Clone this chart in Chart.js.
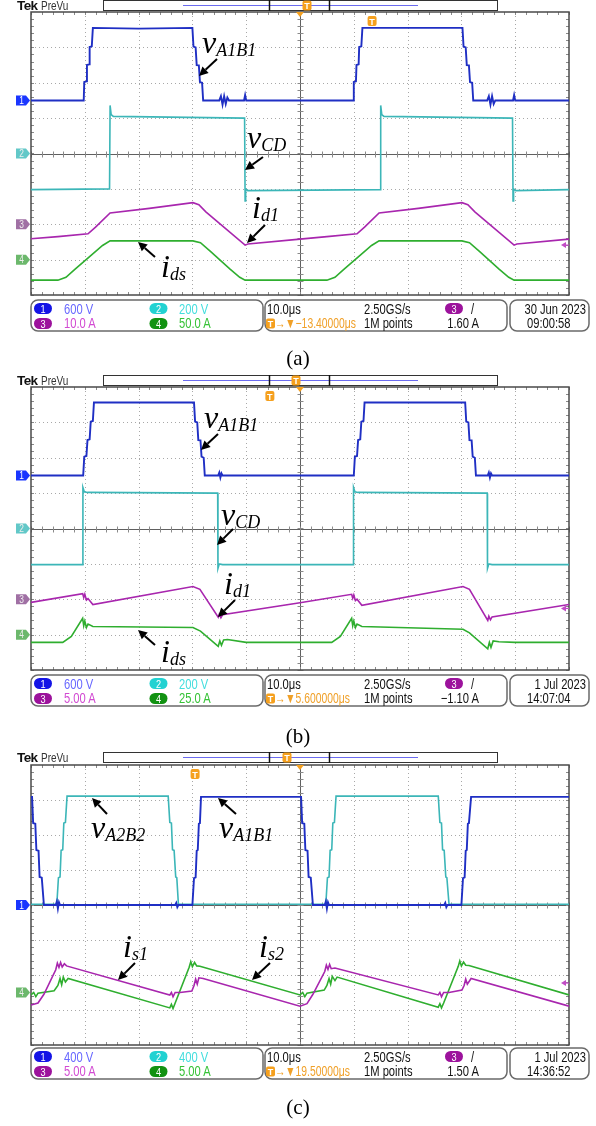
<!DOCTYPE html>
<html>
<head>
<meta charset="utf-8">
<script src="https://cdn.jsdelivr.net/npm/chart.js@4.4.0/dist/chart.umd.min.js"></script>
<style>
body { margin: 0; background: #fff; width: 596px; height: 1126px; position: relative; overflow: hidden; }
.panel { position: absolute; left: 0; width: 596px; }
.panel canvas { position: absolute; left: 0; top: 0; }
#overlay { position: absolute; left: 0; top: 0; pointer-events: none; }
</style>
</head>
<body>
<script>
// time axis 0..100 us (10 us/div), vertical in divisions -4..4

// ---- panel (a) ----
const a_vA1B1 = [[0,1.5],[9.8,1.5],[9.9,2.02],[10.3,2.04],[10.4,2.5],[10.8,2.52],[10.9,3.01],[11.3,3.03],[11.5,3.55],[20,3.53],[30,3.55],[30.2,3.02],[30.6,3.0],[30.8,2.5],[31.2,2.49],[31.4,2.02],[31.8,2.0],[32.0,1.5],[35.0,1.5],[35.3,1.62],[35.6,1.38],[35.9,1.62],[36.2,1.4],[36.5,1.58],[36.8,1.5],[39.6,1.5],[39.8,1.65],[40,1.5],[59.9,1.5],[60.0,2.02],[60.4,2.04],[60.5,2.5],[60.9,2.52],[61.0,3.01],[61.4,3.03],[61.6,3.55],[80.2,3.55],[80.4,3.02],[80.8,3.0],[81.0,2.5],[81.4,2.49],[81.6,2.02],[82.0,2.0],[82.2,1.5],[84.8,1.5],[85.1,1.62],[85.4,1.38],[85.7,1.62],[86.0,1.4],[86.3,1.5],[89.6,1.5],[89.8,1.65],[90,1.5],[100,1.5]];
const a_vCD = [[0,-1.02],[14.6,-1.0],[14.7,1.36],[14.9,1.1],[15.3,1.05],[39.7,1.0],[39.8,-1.34],[39.9,-1.0],[40.3,-1.05],[64.9,-1.02],[65.0,1.36],[65.2,1.1],[65.6,1.05],[89.5,1.0],[89.6,-1.34],[89.7,-1.0],[90.1,-1.05],[100,-1.02]];
const a_id1 = [[0,-2.41],[5,-2.35],[10.6,-2.27],[12,-2.08],[14.7,-1.68],[22,-1.55],[30.1,-1.39],[31.2,-1.45],[32.5,-1.65],[39.8,-2.59],[40.3,-2.56],[50,-2.42],[55,-2.35],[60.6,-2.27],[62,-2.08],[64.7,-1.68],[72,-1.55],[80.1,-1.39],[81.2,-1.45],[82.5,-1.65],[89.8,-2.59],[90.3,-2.56],[100,-2.42]];
const a_ids = [[0,-3.58],[5,-3.58],[6.5,-3.5],[8.2,-3.27],[11,-2.9],[13.3,-2.6],[14.7,-2.47],[30.1,-2.47],[31.5,-2.52],[33.3,-2.76],[37,-3.27],[38.8,-3.5],[39.8,-3.58],[55,-3.58],[56.5,-3.5],[58.2,-3.27],[61,-2.9],[63.3,-2.6],[64.7,-2.47],[80.1,-2.47],[81.5,-2.52],[83.3,-2.76],[87,-3.27],[88.8,-3.5],[89.8,-3.58],[100,-3.58]];

// ---- panel (b) ----
const b_vA1B1 = [[0,1.5],[9.7,1.5],[9.9,2.03],[10.3,2.05],[10.5,2.5],[10.9,2.52],[11.1,3.02],[11.5,3.04],[11.7,3.56],[30.3,3.56],[30.5,3.02],[30.9,3.0],[31.1,2.5],[31.5,2.49],[31.7,2.03],[32.1,2.0],[32.3,1.5],[34.8,1.5],[35.0,1.58],[35.2,1.44],[35.4,1.56],[35.6,1.5],[60.0,1.5],[60.2,2.03],[60.6,2.05],[60.8,2.5],[61.2,2.52],[61.4,3.02],[61.8,3.04],[62.0,3.56],[80.7,3.56],[80.9,3.02],[81.3,3.0],[81.5,2.5],[81.9,2.49],[82.1,2.03],[82.5,2.0],[82.7,1.5],[84.9,1.5],[85.1,1.58],[85.3,1.44],[85.5,1.56],[85.7,1.5],[100,1.5]];
const b_vCD = [[0,-1.02],[9.6,-1.02],[9.65,1.16],[9.9,1.04],[10.5,1.02],[34.7,1.0],[34.75,-1.13],[35,-1.0],[35.6,-1.02],[59.9,-1.02],[59.95,1.16],[60.2,1.04],[60.8,1.02],[84.8,1.0],[84.85,-1.13],[85.1,-1.0],[85.7,-1.02],[100,-1.02]];
const b_id1 = [[0,-2.09],[9.6,-1.84],[9.8,-1.95],[10.0,-1.86],[10.3,-2.02],[10.6,-1.98],[11.5,-2.15],[30.1,-1.64],[31.4,-1.72],[34.8,-2.51],[35.0,-2.42],[35.3,-2.52],[35.6,-2.44],[50,-2.1],[59.6,-1.86],[59.8,-1.97],[60.0,-1.88],[60.3,-2.04],[60.6,-2.0],[61.5,-2.17],[80.3,-1.64],[81.5,-1.72],[84.9,-2.6],[85.1,-2.48],[85.4,-2.58],[85.7,-2.5],[100,-2.15]];
const b_ids = [[0,-3.22],[5.9,-3.22],[7.5,-3.05],[9.6,-2.54],[9.8,-2.75],[10.0,-2.62],[10.3,-2.8],[10.6,-2.7],[11.5,-2.77],[30.1,-2.8],[31.5,-2.9],[34.8,-3.33],[35.1,-3.18],[35.4,-3.3],[35.8,-3.15],[36.5,-3.14],[40,-3.22],[55.9,-3.22],[57.5,-3.05],[59.6,-2.54],[59.8,-2.75],[60.0,-2.62],[60.3,-2.8],[60.6,-2.7],[61.5,-2.77],[80.3,-2.85],[81.5,-2.95],[84.9,-3.4],[85.2,-3.22],[85.5,-3.36],[85.9,-3.18],[87,-3.2],[90,-3.22],[100,-3.22]];

// ---- panel (c) ----
const c_vA1B1 = [[0,3.09],[0.2,3.09],[0.4,2.34],[0.8,2.32],[1.0,1.57],[1.4,1.55],[1.6,0.8],[2.0,0.78],[2.4,0],[4.6,0],[4.8,0.1],[5.0,-0.1],[5.2,0.08],[5.4,0],[26.8,0],[27.0,0.06],[27.2,-0.06],[27.4,0],[30.0,0],[30.3,0.77],[30.6,0.79],[30.8,1.55],[31.0,1.57],[31.2,2.32],[31.4,2.34],[31.6,3.09],[50.2,3.09],[50.4,2.34],[50.8,2.32],[51.0,1.57],[51.4,1.55],[51.6,0.8],[52.0,0.78],[52.4,0],[54.6,0],[54.8,0.1],[55.0,-0.1],[55.2,0.08],[55.4,0],[76.8,0],[77.0,0.06],[77.2,-0.06],[77.4,0],[80.0,0],[80.3,0.77],[80.6,0.79],[80.8,1.55],[81.0,1.57],[81.2,2.32],[81.4,2.34],[81.8,3.09],[100,3.09]];
const c_vA2B2 = [[0,0.02],[4.8,0.02],[5.1,0.78],[5.4,0.8],[5.6,1.56],[5.9,1.58],[6.1,2.34],[6.4,2.36],[6.7,3.11],[25.5,3.11],[25.8,2.36],[26.1,2.34],[26.3,1.58],[26.6,1.56],[26.9,0.8],[27.1,0.78],[27.4,0.02],[54.8,0.02],[55.1,0.78],[55.4,0.8],[55.6,1.56],[55.9,1.58],[56.1,2.34],[56.4,2.36],[56.7,3.11],[75.7,3.11],[76.0,2.36],[76.3,2.34],[76.5,1.58],[76.8,1.56],[77.1,0.8],[77.3,0.78],[77.7,0.02],[100,0.02]];
const c_is1 = [[0,-2.86],[1.3,-2.8],[2.4,-2.55],[4.6,-1.85],[4.9,-1.66],[5.2,-1.78],[5.5,-1.64],[5.8,-1.77],[6.2,-1.68],[6.6,-1.74],[25.8,-2.57],[26.1,-2.5],[26.4,-2.62],[26.8,-2.5],[27.7,-2.5],[29.9,-2.46],[30.3,-2.3],[30.6,-2.12],[30.9,-2.26],[31.2,-2.08],[32,-2.1],[50,-2.89],[51.3,-2.82],[52.4,-2.55],[54.6,-1.9],[54.9,-1.72],[55.2,-1.84],[55.5,-1.7],[55.8,-1.82],[56.5,-1.8],[75.7,-2.57],[76.0,-2.5],[76.3,-2.62],[76.7,-2.5],[77.7,-2.5],[80.1,-2.43],[80.5,-2.3],[80.8,-2.12],[81.1,-2.26],[81.8,-2.1],[100,-2.89]];
const c_is2 = [[0,-2.57],[0.5,-2.5],[0.9,-2.62],[1.3,-2.52],[4.3,-2.45],[5.0,-2.3],[5.4,-2.1],[5.7,-2.28],[6.0,-2.06],[6.4,-2.2],[6.9,-2.1],[25.8,-2.94],[26.1,-2.84],[26.4,-2.96],[26.8,-2.8],[29.4,-1.78],[29.7,-1.62],[30.0,-1.76],[30.4,-1.64],[30.8,-1.74],[31.4,-1.75],[50,-2.57],[50.5,-2.5],[50.9,-2.62],[51.3,-2.52],[54.5,-2.43],[55,-2.3],[55.4,-2.1],[55.7,-2.26],[56.0,-2.04],[56.5,-2.16],[56.9,-2.06],[75.7,-2.92],[76.0,-2.82],[76.3,-2.94],[76.7,-2.8],[79.4,-1.76],[79.7,-1.6],[80.0,-1.74],[80.4,-1.63],[80.8,-1.72],[81.4,-1.73],[100,-2.57]];

const traceColors = ['#1f2fc4', '#3cb6b8', '#a826ae', '#2fae2f'];
const chanFill = ['#1a36ff', '#62c8c8', '#a070a4', '#6cb86c'];
const pillFill = ['#1414e6', '#22d2d2', '#9c129c', '#129212'];
const infoColors = ['#6868ff', '#44dede', '#d24ad2', '#36c236'];

const scaleTexts = [['600 V', '200 V', '10.0 A', '50.0 A'], ['600 V', '200 V', '5.00 A', '25.0 A'], ['400 V', '400 V', '5.00 A', '5.00 A']];
const trigOffsets = ['\u221213.40000\u03bcs', '5.600000\u03bcs', '19.50000\u03bcs'];
const trigLevels = ['1.60 A', '\u22121.10 A', '1.50 A'];
const trigLevelDiv = [-2.59, -2.26, -2.23];
const trigTime = [63.4, 44.4, 30.5];
const headerT = [307, 296, 287];
const dates = ['30 Jun  2023', '1 Jul  2023', '1 Jul  2023'];
const clocks = ['09:00:58', '14:07:04', '14:36:52'];
const captions = ['(a)', '(b)', '(c)'];
const captionY = [365, 743, 1114];

// channel reference levels shown on the left [channel index, level]
const chanMarks = [[[0, 1.5], [1, 0], [2, -2], [3, -3]], [[0, 1.5], [1, 0], [2, -2], [3, -3]], [[0, 0], [3, -2.5]]];

// labels: main letter, subscript, x, baseline (page px)
const labelText = [
  [['v', 'A1B1', 202, 53], ['v', 'CD', 247, 148], ['i', 'd1', 252, 218], ['i', 'ds', 161, 277]],
  [['v', 'A1B1', 204, 428], ['v', 'CD', 221, 525], ['i', 'd1', 224, 594], ['i', 'ds', 161, 662]],
  [['v', 'A2B2', 91, 838], ['v', 'A1B1', 219, 838], ['i', 's1', 123, 957], ['i', 's2', 259, 957]]
];
const arrowList = [
  [217, 59, 199, 76], [263, 157, 245, 170], [265, 225, 247, 243], [155, 257, 138, 242],
  [218, 434, 201, 450], [233, 529, 217, 545], [235, 600, 218, 617], [155, 645, 138, 630],
  [107, 814, 92, 798], [236, 814, 218, 798], [135, 963, 118, 980], [270, 963, 252, 980]
];

const panels = [
  {top: 0, gridTop: 12, gridH: 283, infoTop: 300, series: [a_vA1B1, a_vCD, a_id1, a_ids], chans: [0, 1, 2, 3]},
  {top: 375, gridTop: 12, gridH: 283, infoTop: 300, series: [b_vA1B1, b_vCD, b_id1, b_ids], chans: [0, 1, 2, 3]},
  {top: 752, gridTop: 13, gridH: 280, infoTop: 296, series: [c_vA1B1, c_vA2B2, c_is1, c_is2], chans: [0, 1, 2, 3]}
];

const scopeGrid = {
  id: 'scopeGrid',
  beforeDatasetsDraw(chart) {
    const {ctx, chartArea: a, scales: {x, y}} = chart;
    const line = (x1, y1, x2, y2) => { ctx.beginPath(); ctx.moveTo(x1, y1); ctx.lineTo(x2, y2); ctx.stroke(); };
    ctx.save();
    ctx.strokeStyle = '#a8a8a8';
    ctx.lineWidth = 1;
    ctx.setLineDash([1, 3]);
    for (let t = 10; t < 100; t += 10) {
      if (t === 50) continue;
      const px = Math.round(x.getPixelForValue(t)) + 0.5;
      line(px, a.top, px, a.bottom);
    }
    for (let v = -3; v <= 3; v++) {
      if (v === 0) continue;
      const py = Math.round(y.getPixelForValue(v)) + 0.5;
      line(a.left, py, a.right, py);
    }
    ctx.setLineDash([]);
    ctx.strokeStyle = '#606060';
    const cx = Math.round(x.getPixelForValue(50)) + 0.5;
    const cy = Math.round(y.getPixelForValue(0)) + 0.5;
    line(cx, a.top, cx, a.bottom);
    line(a.left, cy, a.right, cy);
    // minor ticks every 0.2 div
    ctx.strokeStyle = '#8a8a8a';
    for (let t = 0; t <= 100; t += 2) {
      const px = Math.round(x.getPixelForValue(t)) + 0.5;
      line(px, cy - 3, px, cy + 3);
      line(px, a.top, px, a.top + 3);
      line(px, a.bottom - 3, px, a.bottom);
    }
    for (let v = -4; v <= 4; v += 0.2) {
      const py = Math.round(y.getPixelForValue(v)) + 0.5;
      line(cx - 3, py, cx + 3, py);
      line(a.left, py, a.left + 3, py);
      line(a.right - 3, py, a.right, py);
    }
    ctx.strokeStyle = '#4a4a4a';
    ctx.lineWidth = 1.5;
    ctx.strokeRect(a.left, a.top, a.right - a.left, a.bottom - a.top);
    ctx.restore();
  }
};

const charts = panels.map((p) => {
  const div = document.createElement('div');
  div.className = 'panel';
  div.style.top = p.top + 'px';
  const h = p.gridTop + p.gridH + 2;
  div.style.height = h + 'px';
  document.body.appendChild(div);
  const cv = document.createElement('canvas');
  cv.width = 596; cv.height = h;
  cv.style.width = '596px'; cv.style.height = h + 'px';
  div.appendChild(cv);
  return new Chart(cv, {
    type: 'line',
    data: {
      datasets: p.series.map((s, i) => ({
        data: s.map(([t, v]) => ({x: t, y: v})),
        borderColor: traceColors[p.chans[i]],
        borderWidth: i === 0 ? 1.9 : 1.6
      }))
    },
    options: {
      responsive: false,
      animation: false,
      devicePixelRatio: 1,
      layout: {padding: {left: 31, right: 27, top: p.gridTop, bottom: 2}},
      scales: {
        x: {type: 'linear', min: 0, max: 100, display: false},
        y: {type: 'linear', min: -4, max: 4, display: false}
      },
      elements: {point: {radius: 0}, line: {tension: 0}},
      plugins: {legend: {display: false}, tooltip: {enabled: false}}
    },
    plugins: [scopeGrid]
  });
});

// ---- overlay: header, markers, info bars, labels ----
const NS = 'http://www.w3.org/2000/svg';
const svg = document.createElementNS(NS, 'svg');
svg.setAttribute('id', 'overlay');
svg.setAttribute('width', 596);
svg.setAttribute('height', 1126);
document.body.appendChild(svg);

function el(tag, attrs, text) {
  const e = document.createElementNS(NS, tag);
  for (const k in attrs) e.setAttribute(k, attrs[k]);
  if (text !== undefined) e.textContent = text;
  svg.appendChild(e);
  return e;
}
const sans = '"Liberation Sans", Arial, sans-serif';
// scope font is narrow: squeeze a regular sans horizontally
function info(x, y, s, fill, anchor, size, sx) {
  return el('text', {x: 0, y: 0, transform: `translate(${x},${y}) scale(${sx || 0.8},1)`, fill: fill || '#111', 'font-family': sans, 'font-size': size || 14, 'text-anchor': anchor || 'start'}, s);
}
function pill(cx, cy, ch) {
  el('rect', {x: cx - 9, y: cy - 5.5, width: 18, height: 11, rx: 5.5, fill: pillFill[ch]});
  info(cx, cy + 4, String(ch + 1), '#fff', 'middle', 11.5);
}
function orangeT(cx, cy) {
  el('rect', {x: cx - 4.5, y: cy - 5, width: 9, height: 10, rx: 2, fill: '#f5a01e'});
  el('text', {x: cx, y: cy + 3.5, fill: '#fff', 'font-family': sans, 'font-size': 9, 'font-weight': 'bold', 'text-anchor': 'middle'}, 'T');
}

panels.forEach((p, k) => {
  const ch = charts[k];
  const xs = ch.scales.x, ys = ch.scales.y;
  const T = p.top;
  const gTop = T + p.gridTop;

  // header
  el('text', {x: 17, y: T + 10, fill: '#111', 'font-family': sans, 'font-size': 13.5, 'font-weight': 'bold', 'letter-spacing': -0.6}, 'Tek');
  info(41, T + 10, 'PreVu', '#333', 'start', 12.5);
  el('rect', {x: 103.5, y: T + 0.5, width: 394, height: 10, fill: '#fff', stroke: '#333', 'stroke-width': 1});
  el('line', {x1: 183, y1: T + 5.5, x2: 418, y2: T + 5.5, stroke: '#6b6bf0', 'stroke-width': 1});
  el('line', {x1: 269.5, y1: T, x2: 269.5, y2: T + 11, stroke: '#111', 'stroke-width': 1.5});
  el('line', {x1: 329.5, y1: T, x2: 329.5, y2: T + 11, stroke: '#111', 'stroke-width': 1.5});
  orangeT(headerT[k], T + 5.5);
  const cx = xs.getPixelForValue(50);
  el('path', {d: `M${cx - 4},${gTop} L${cx + 4},${gTop} L${cx},${gTop + 5} Z`, fill: '#f5a01e'});

  // trigger point marker in the grid
  orangeT(xs.getPixelForValue(trigTime[k]), gTop + 9);

  // channel markers
  chanMarks[k].forEach(([c, lv]) => {
    const y = T + ys.getPixelForValue(lv);
    el('path', {d: `M16,${y - 5} L26,${y - 5} L30,${y} L26,${y + 5} L16,${y + 5} Z`, fill: chanFill[c]});
    info(21.5, y + 3.5, String(c + 1), c === 0 ? '#fff' : '#eee', 'middle', 10.5);
  });

  // trigger level marker on the right
  const ty = T + ys.getPixelForValue(trigLevelDiv[k]);
  el('path', {d: `M561,${ty} L566,${ty - 3} L566,${ty + 3} Z`, fill: '#c24cc6'});
  el('line', {x1: 565, y1: ty, x2: 569, y2: ty, stroke: '#c24cc6', 'stroke-width': 1.2});

  // info bar
  const I = T + p.infoTop;
  el('rect', {x: 31, y: I, width: 232, height: 31, rx: 7, fill: '#fff', stroke: '#6a6a6a', 'stroke-width': 1.5});
  el('rect', {x: 265, y: I, width: 242, height: 31, rx: 7, fill: '#fff', stroke: '#6a6a6a', 'stroke-width': 1.5});
  el('rect', {x: 510, y: I, width: 79, height: 31, rx: 7, fill: '#fff', stroke: '#6a6a6a', 'stroke-width': 1.5});
  const r1 = I + 13.5, r2 = I + 28;
  pill(43, I + 8.5, 0); info(64, r1, scaleTexts[k][0], infoColors[0]);
  pill(158.5, I + 8.5, 1); info(179, r1, scaleTexts[k][1], infoColors[1]);
  pill(43, I + 23.5, 2); info(64, r2, scaleTexts[k][2], infoColors[2]);
  pill(158.5, I + 23.5, 3); info(179, r2, scaleTexts[k][3], infoColors[3]);
  info(267, r1, '10.0\u03bcs');
  info(364, r1, '2.50GS/s');
  pill(454, I + 8.5, 2);
  info(471, r1, '/');
  orangeT(270.5, I + 23.5);
  info(275, r2, '\u2192\u25bc' + trigOffsets[k], '#f0a028', 'start', 14, 0.74);
  info(364, r2, '1M points');
  info(479, r2, trigLevels[k], '#111', 'end');
  info(586, r1, dates[k], '#111', 'end');
  info(527, r2, clocks[k]);

  // caption
  el('text', {x: 298, y: captionY[k], fill: '#000', 'font-family': '"Liberation Serif", serif', 'font-size': 21, 'text-anchor': 'middle'}, captions[k]);

  // waveform labels
  labelText[k].forEach(([m, s, x, y]) => {
    const t = el('text', {x: x, y: y, fill: '#000', 'font-family': '"Liberation Serif", serif', 'font-style': 'italic', 'font-size': 32});
    t.appendChild(document.createTextNode(m));
    const sub = document.createElementNS(NS, 'tspan');
    sub.setAttribute('font-size', 18);
    sub.setAttribute('dy', 3);
    sub.textContent = s;
    t.appendChild(sub);
  });
});

// arrows
arrowList.forEach(([x1, y1, x2, y2]) => {
  const ang = Math.atan2(y2 - y1, x2 - x1);
  const L = 9, W = 4.5;
  const bx = x2 - L * Math.cos(ang), by = y2 - L * Math.sin(ang);
  el('line', {x1: x1, y1: y1, x2: bx, y2: by, stroke: '#000', 'stroke-width': 2});
  const px = -Math.sin(ang) * W, py = Math.cos(ang) * W;
  el('path', {d: `M${x2},${y2} L${bx + px},${by + py} L${bx - px},${by - py} Z`, fill: '#000'});
});
</script>
</body>
</html>
